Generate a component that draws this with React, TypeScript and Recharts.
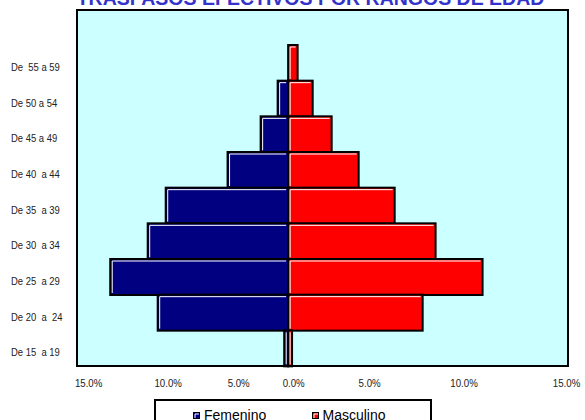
import { Bar, BarChart, CartesianGrid, Legend, XAxis, YAxis } from "recharts";

const ageGroups = [
  "De  55 a 59",
  "De 50 a 54",
  "De 45 a 49",
  "De 40  a 44",
  "De 35  a 39",
  "De 30  a 34",
  "De 25  a 29",
  "De 20  a  24",
  "De 15  a 19",
];
const femenino = [0, 0.64, 1.68, 3.7, 7.48, 8.58, 10.87, 7.97, 0.24];
const masculino = [0.58, 1.5, 2.66, 4.31, 6.51, 9.01, 11.88, 8.22, 0.24];
const xTicks = [-12.19, -7.33, -3.02, 0.34, 4.98, 10.75, 17.01];
const xTickLabels = ["15.0%", "10.0%", "5.0%", "0.0%", "5.0%", "10.0%", "15.0%"];

const data = ageGroups.map((grupo, i) => ({
  grupo,
  Femenino: -femenino[i],
  Masculino: masculino[i],
}));

const labelFont = "'Liberation Sans', Arial, sans-serif";

function BarShape(props: any) {
  const { x, y, width, height, fill } = props;
  const x0 = width < 0 ? x + width : x;
  const w = Math.abs(width);
  if (w < 0.5) return null;
  return (
    <g>
      <rect x={x0} y={y} width={w} height={height} fill={fill} stroke="#000" strokeWidth={2} />
      <polyline
        points={`${x0 + 2},${y + height - 2} ${x0 + 2},${y + 2} ${x0 + w - 2},${y + 2}`}
        fill="none"
        stroke="#fff"
        strokeWidth={1}
      />
    </g>
  );
}

function XTick({ x, y, index }: any) {
  return (
    <text
      transform={`translate(${x},${y + 13}) scale(0.88,1)`}
      textAnchor="middle"
      fontSize={11}
      fontFamily={labelFont}
      fill="#222"
    >
      {xTickLabels[index]}
    </text>
  );
}

function YTick({ y, payload }: any) {
  return (
    <text
      transform={`translate(11,${y + 8}) scale(0.86,1)`}
      textAnchor="start"
      fontSize={11}
      fontFamily={labelFont}
      fill="#222"
      style={{ whiteSpace: "pre" }}
    >
      {payload.value}
    </text>
  );
}

function LegendBox({ payload }: any) {
  return (
    <div
      style={{
        boxSizing: "border-box",
        width: 278,
        height: 30,
        border: "2px solid #000",
        background: "#fff",
        paddingLeft: 37,
        paddingTop: 2,
        display: "flex",
        fontFamily: "'Liberation Sans', Arial, sans-serif",
        fontSize: 14,
        lineHeight: "16px",
        color: "#000",
      }}
    >
      {(payload || []).map((item: any) => (
        <div key={item.value} style={{ width: 139, display: "flex", alignItems: "center" }}>
          <svg width={7} height={7} style={{ marginRight: 4 }}>
            <rect x={0.5} y={0.5} width={6} height={6} fill={item.color} stroke="#000" strokeWidth={1} />
            <polyline points="2,6 2,2 6,2" fill="none" stroke="#fff" strokeWidth={1} />
          </svg>
          <span>{item.value}</span>
        </div>
      ))}
    </div>
  );
}

export default function App() {
  return (
    <div style={{ position: "absolute", left: 0, top: 0, width: 585, height: 420, background: "#fff", overflow: "hidden" }}>
      <svg width={585} height={20} style={{ position: "absolute", left: 0, top: 0 }}>
        <text
          x={310.5}
          y={5}
          textAnchor="middle"
          fontSize={19.5}
          fontWeight="bold"
          fontFamily="'Liberation Sans', Arial, sans-serif"
          fill="#3333cc"
        >
          TRASPASOS EFECTIVOS POR RANGOS DE EDAD
        </text>
      </svg>
      <BarChart
        width={585}
        height={420}
        data={data}
        layout="vertical"
        stackOffset="sign"
        barCategoryGap={0}
        margin={{ top: 10, right: 17, bottom: 34, left: 0 }}
      >
        <CartesianGrid fill="#ccffff" horizontal={false} vertical={false} />
        <XAxis
          type="number"
          domain={[-12.9, 17.1]}
          ticks={xTicks}
          interval={0}
          allowDataOverflow
          axisLine={false}
          tickLine={false}
          height={20}
          tick={<XTick />}
        />
        <YAxis
          type="category"
          dataKey="grupo"
          width={77}
          padding={{ top: 35, bottom: 0 }}
          axisLine={false}
          tickLine={false}
          interval={0}
          tick={<YTick />}
        />
        <Legend
          layout="horizontal"
          verticalAlign="middle"
          align="center"
          wrapperStyle={{ top: 399, left: 154, width: 278, height: 30, bottom: "auto", right: "auto" }}
          content={<LegendBox />}
        />
        <Bar dataKey="Femenino" stackId="a" fill="#000080" shape={<BarShape />} isAnimationActive={false} />
        <Bar dataKey="Masculino" stackId="a" fill="#ff0000" shape={<BarShape />} isAnimationActive={false} />
      </BarChart>
      <div
        style={{
          position: "absolute",
          left: 76,
          top: 9,
          width: 493,
          height: 358,
          boxSizing: "border-box",
          border: "2px solid #000",
          pointerEvents: "none",
        }}
      />
    </div>
  );
}
